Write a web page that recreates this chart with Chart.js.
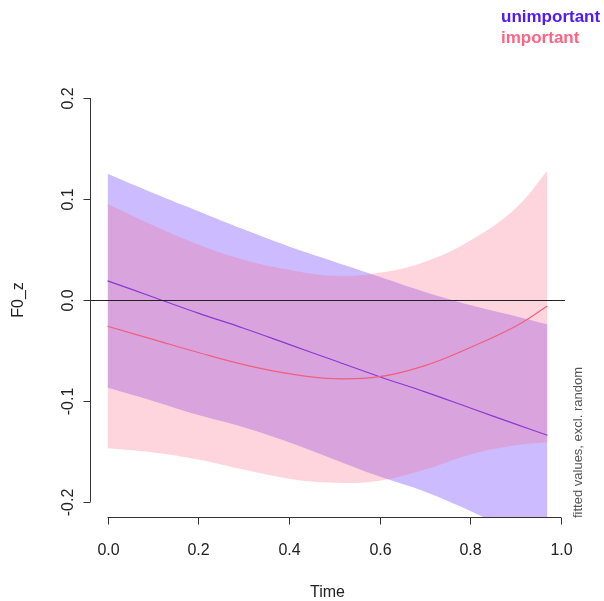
<!DOCTYPE html>
<html>
<head>
<meta charset="utf-8">
<script src="https://cdn.jsdelivr.net/npm/chart.js@4/dist/chart.umd.min.js"></script>
<style>
  html, body { margin: 0; padding: 0; background: #fff; }
  #wrap { width: 604px; height: 601px; position: relative; }
</style>
</head>
<body>
<div id="wrap"><canvas id="chart" width="604" height="601"></canvas></div>
<script>
// data
const time = [0, 0.1, 0.2, 0.3, 0.4, 0.5, 0.6, 0.7, 0.8, 0.9, 0.97];

const unimpFit   = [0.019, 0.003, -0.013, -0.028, -0.044, -0.060, -0.076, -0.091, -0.107, -0.123, -0.134];
const unimpUpper = [0.125, 0.106, 0.088, 0.070, 0.053, 0.038, 0.023, 0.008, -0.005, -0.016, -0.024];
const unimpLower = [-0.087, -0.100, -0.114, -0.126, -0.141, -0.158, -0.175, -0.190, -0.209, -0.230, -0.244];

const impFit   = [-0.026, -0.039, -0.052, -0.064, -0.073, -0.078, -0.076, -0.065, -0.047, -0.026, -0.006];
const impUpper = [0.095, 0.074, 0.055, 0.040, 0.030, 0.024, 0.027, 0.038, 0.059, 0.091, 0.128];
const impLower = [-0.147, -0.151, -0.158, -0.168, -0.177, -0.181, -0.179, -0.168, -0.153, -0.144, -0.141];

const xTicks = [0, 0.2, 0.4, 0.6, 0.8, 1.0];
const yTicks = [-0.2, -0.1, 0, 0.1, 0.2];
const refLine = 0;

const groups = ["unimportant", "important"];
const groupColors = ["rgb(80,25,255)", "rgb(255,100,130)"];

const FONT = "'Liberation Sans', Arial, sans-serif";

const pts = (ys) => time.map((t, i) => ({ x: t, y: ys[i] }));

function band(ys, color, fill, order) {
    return {
        data: pts(ys),
        borderWidth: 0,
        pointRadius: 0,
        backgroundColor: color,
        fill: fill,
        tension: 0.4,
        order: order
    };
}

function fitLine(ys, color, order) {
    return {
        data: pts(ys),
        borderColor: color,
        borderWidth: 1.2,
        pointRadius: 0,
        fill: false,
        tension: 0.4,
        order: order
    };
}

// axis lines, reference line and all text in R style
const rStyle = {
    id: "rStyle",
    afterDatasetsDraw(chart) {
        const { ctx, chartArea: a, scales: { y } } = chart;
        ctx.save();
        // h = 0 line
        const y0 = Math.round(y.getPixelForValue(refLine)) + 0.5;
        ctx.strokeStyle = "#222";
        ctx.lineWidth = 1;
        ctx.beginPath();
        ctx.moveTo(a.left, y0);
        ctx.lineTo(a.right, y0);
        ctx.stroke();
        ctx.restore();
    },
    afterDraw(chart) {
        const { ctx, chartArea: a, scales: { x, y } } = chart;
        ctx.save();
        ctx.strokeStyle = "#333";
        ctx.lineWidth = 1;

        // x axis
        const xb = Math.round(a.bottom) - 0.5;
        ctx.beginPath();
        ctx.moveTo(x.getPixelForValue(xTicks[0]), xb);
        ctx.lineTo(x.getPixelForValue(xTicks[xTicks.length - 1]), xb);
        ctx.stroke();
        // y axis
        const yl = Math.round(a.left) + 0.5;
        ctx.beginPath();
        ctx.moveTo(yl, y.getPixelForValue(yTicks[0]));
        ctx.lineTo(yl, y.getPixelForValue(yTicks[yTicks.length - 1]));
        ctx.stroke();

        // ticks + labels
        ctx.fillStyle = "#222";
        ctx.font = "16px " + FONT;
        ctx.textAlign = "center";
        ctx.textBaseline = "alphabetic";
        xTicks.forEach(v => {
            const px = Math.round(x.getPixelForValue(v)) + 0.5;
            ctx.beginPath();
            ctx.moveTo(px, xb);
            ctx.lineTo(px, xb + 7);
            ctx.stroke();
            ctx.fillText(v.toFixed(1), px, 555);
        });
        yTicks.forEach(v => {
            const py = Math.round(y.getPixelForValue(v)) + 0.5;
            ctx.beginPath();
            ctx.moveTo(yl, py);
            ctx.lineTo(yl - 7, py);
            ctx.stroke();
            ctx.save();
            ctx.translate(73, py);
            ctx.rotate(-Math.PI / 2);
            ctx.fillText(v.toFixed(1), 0, 0);
            ctx.restore();
        });

        // axis titles
        ctx.fillText("Time", (a.left + a.right) / 2, 597);
        ctx.save();
        ctx.translate(23, (a.top + a.bottom) / 2);
        ctx.rotate(-Math.PI / 2);
        ctx.fillText("F0_z", 0, 0);
        ctx.restore();

        // side note
        ctx.save();
        ctx.fillStyle = "#555";
        ctx.font = "13px " + FONT;
        ctx.textAlign = "left";
        ctx.translate(582, a.bottom);
        ctx.rotate(-Math.PI / 2);
        ctx.fillText("fitted values, excl. random", 0, 0);
        ctx.restore();

        // legend
        ctx.font = "bold 17px " + FONT;
        ctx.textAlign = "left";
        groups.forEach((g, i) => {
            ctx.fillStyle = groupColors[i];
            ctx.fillText(g, 501, 22 + i * 21);
        });
        ctx.restore();
    }
};

const ctx = document.getElementById("chart").getContext("2d");

new Chart(ctx, {
    type: "line",
    data: {
        datasets: [
            band(unimpUpper, "rgba(85,30,255,0.3)", "+1", 3),
            band(unimpLower, "rgba(85,30,255,0.3)", false, 3),
            fitLine(unimpFit, "rgb(95,40,240)", 2),
            band(impUpper, "rgba(255,100,130,0.27)", "+1", 1),
            band(impLower, "rgba(255,100,130,0.27)", false, 1),
            fitLine(impFit, "rgb(240,95,125)", 0)
        ]
    },
    options: {
        responsive: false,
        animation: false,
        events: [],
        layout: { padding: { top: 82, right: 39, left: 0, bottom: 0 } },
        plugins: {
            legend: { display: false },
            tooltip: { enabled: false }
        },
        scales: {
            x: {
                type: "linear",
                min: -0.0388,
                max: 1.0088,
                grid: { display: false },
                border: { display: false },
                ticks: { display: false },
                afterFit: s => { s.height = 83; }
            },
            y: {
                min: -0.216,
                max: 0.216,
                grid: { display: false },
                border: { display: false },
                ticks: { display: false },
                afterFit: s => { s.width = 90; }
            }
        }
    },
    plugins: [rStyle]
});
</script>
</body>
</html>
